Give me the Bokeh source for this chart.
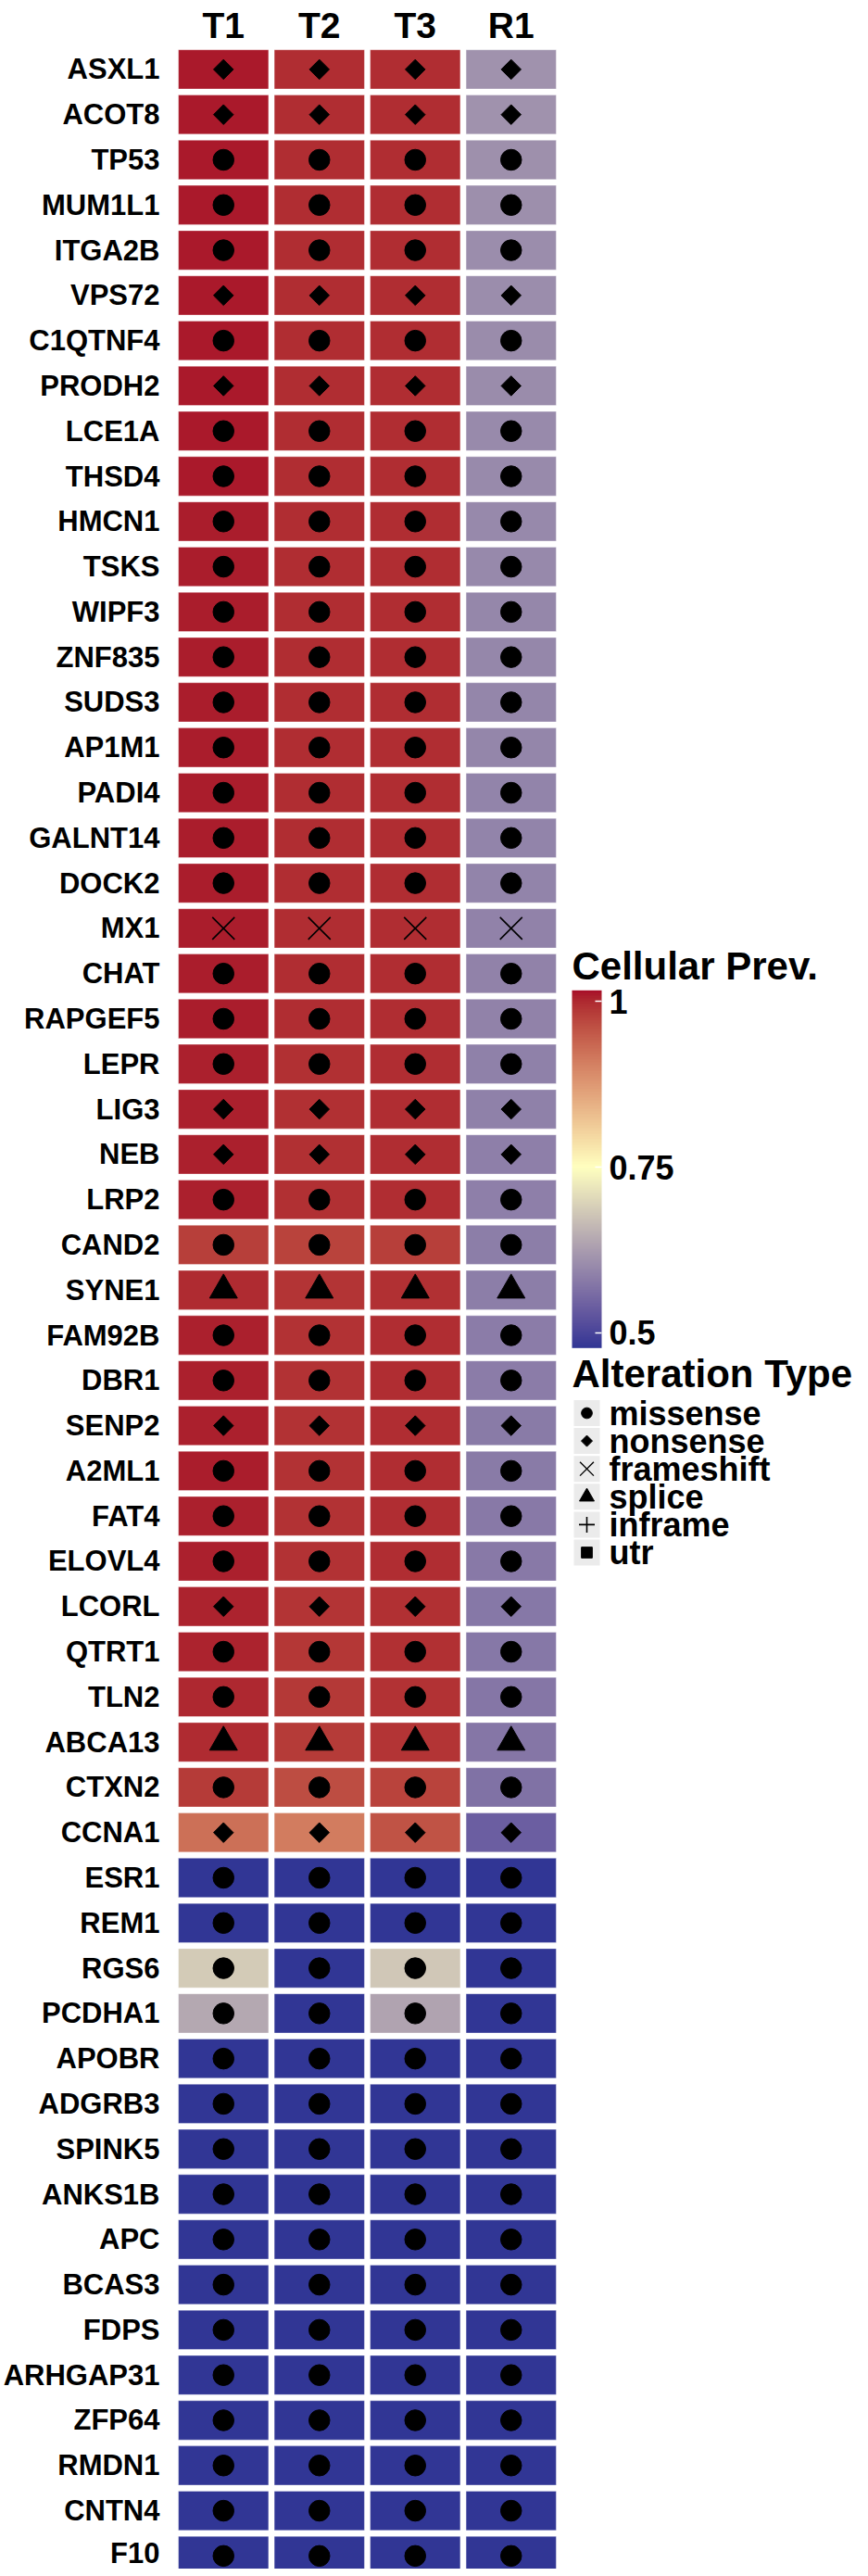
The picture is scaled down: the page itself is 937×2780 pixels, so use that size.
import math
from bokeh.plotting import figure
from bokeh.layouts import row
from bokeh.models import (Range1d, FactorRange, LinearColorMapper, ColorBar, FixedTicker,
                          ColumnDataSource, NumeralTickFormatter)
from bokeh.core.properties import value
from bokeh.transform import transform
from bokeh.embed import file_html
from bokeh.resources import INLINE

# ---------------- data ----------------
genes = ["ASXL1", "ACOT8", "TP53", "MUM1L1", "ITGA2B", "VPS72", "C1QTNF4", "PRODH2",
         "LCE1A", "THSD4", "HMCN1", "TSKS", "WIPF3", "ZNF835", "SUDS3", "AP1M1",
         "PADI4", "GALNT14", "DOCK2", "MX1", "CHAT", "RAPGEF5", "LEPR", "LIG3",
         "NEB", "LRP2", "CAND2", "SYNE1", "FAM92B", "DBR1", "SENP2", "A2ML1",
         "FAT4", "ELOVL4", "LCORL", "QTRT1", "TLN2", "ABCA13", "CTXN2", "CCNA1",
         "ESR1", "REM1", "RGS6", "PCDHA1", "APOBR", "ADGRB3", "SPINK5", "ANKS1B",
         "APC", "BCAS3", "FDPS", "ARHGAP31", "ZFP64", "RMDN1", "CNTN4", "F10"]

alteration = ["nonsense", "nonsense", "missense", "missense", "missense", "nonsense", "missense", "nonsense",
              "missense", "missense", "missense", "missense", "missense", "missense", "missense", "missense",
              "missense", "missense", "missense", "frameshift", "missense", "missense", "missense", "nonsense",
              "nonsense", "missense", "missense", "splice", "missense", "missense", "nonsense", "missense",
              "missense", "missense", "nonsense", "missense", "missense", "splice", "missense", "nonsense",
              "missense", "missense", "missense", "missense", "missense", "missense", "missense", "missense",
              "missense", "missense", "missense", "missense", "missense", "missense", "missense", "missense"]

samples = ["T1", "T2", "T3", "R1"]

prev_T1 = [1.012, 1.012, 1.012, 1.012, 1.012, 1.012, 1.012, 1.012,
           1.012, 1.012, 1.010, 1.010, 1.010, 1.010, 1.010, 1.010,
           1.010, 1.010, 1.010, 1.010, 1.010, 1.010, 1.008, 1.008,
           1.008, 1.008, 0.980, 1.000, 1.008, 1.008, 1.008, 1.010,
           1.008, 1.008, 1.005, 1.005, 1.002, 1.000, 0.985, 0.925,
           0.477, 0.477, 0.685, 0.640, 0.477, 0.477, 0.477, 0.477,
           0.477, 0.477, 0.477, 0.477, 0.477, 0.477, 0.477, 0.477]

prev_T2 = [0.998, 0.998, 0.998, 0.998, 0.998, 0.998, 0.998, 0.998,
           0.998, 0.998, 0.997, 0.997, 0.997, 0.997, 0.997, 0.997,
           0.996, 0.996, 0.996, 0.996, 0.996, 0.996, 0.995, 0.995,
           0.995, 0.995, 0.975, 0.990, 0.993, 0.993, 0.993, 0.993,
           0.992, 0.992, 0.990, 0.988, 0.987, 0.985, 0.965, 0.910,
           0.477, 0.477, 0.477, 0.477, 0.477, 0.477, 0.477, 0.477,
           0.477, 0.477, 0.477, 0.477, 0.477, 0.477, 0.477, 0.477]

prev_T3 = [0.998, 0.998, 0.998, 0.998, 0.998, 0.998, 0.997, 0.998,
           0.998, 0.998, 0.998, 0.998, 0.998, 0.998, 0.998, 0.998,
           0.997, 0.997, 0.997, 0.997, 0.997, 0.997, 0.997, 0.997,
           0.997, 0.997, 0.980, 0.995, 0.996, 0.996, 0.996, 0.996,
           0.996, 0.996, 0.995, 0.995, 0.993, 0.990, 0.975, 0.958,
           0.477, 0.477, 0.680, 0.635, 0.477, 0.477, 0.477, 0.477,
           0.477, 0.477, 0.477, 0.477, 0.477, 0.477, 0.477, 0.477]

prev_R1 = [0.610, 0.610, 0.608, 0.606, 0.605, 0.604, 0.603, 0.602,
           0.601, 0.600, 0.599, 0.598, 0.597, 0.596, 0.595, 0.594,
           0.593, 0.592, 0.591, 0.590, 0.590, 0.589, 0.588, 0.587,
           0.586, 0.585, 0.584, 0.583, 0.582, 0.581, 0.580, 0.579,
           0.578, 0.577, 0.576, 0.575, 0.574, 0.572, 0.566, 0.539,
           0.477, 0.477, 0.477, 0.477, 0.477, 0.477, 0.477, 0.477,
           0.477, 0.477, 0.477, 0.477, 0.477, 0.477, 0.477, 0.477]

alt_types = ["missense", "nonsense", "frameshift", "splice", "inframe", "utr"]

value_low, value_mid, value_high = 0.477, 0.75, 1.017
color_low, color_mid, color_high = "#313695", "#FFFFBF", "#A50026"
colorbar_ticks = [0.5, 0.75, 1.0]
colorbar_title = "Cellular Prev."
legend_title = "Alteration Type"

# ---------------- colour helpers (CIELAB interpolation, like ggplot gradient2) ----------------
Xn, Yn, Zn = 0.95047, 1.0, 1.08883


def _lin(c):
    return c / 12.92 if c <= 0.04045 else ((c + 0.055) / 1.055) ** 2.4


def _delin(c):
    return 12.92 * c if c <= 0.0031308 else 1.055 * c ** (1 / 2.4) - 0.055


def hex_to_lab(h):
    r, g, b = [_lin(int(h[i:i + 2], 16) / 255) for i in (1, 3, 5)]
    X = 0.4124564 * r + 0.3575761 * g + 0.1804375 * b
    Y = 0.2126729 * r + 0.7151522 * g + 0.0721750 * b
    Z = 0.0193339 * r + 0.1191920 * g + 0.9503041 * b

    def f(t):
        return t ** (1 / 3) if t > (6 / 29) ** 3 else t / (3 * (6 / 29) ** 2) + 4 / 29
    fx, fy, fz = f(X / Xn), f(Y / Yn), f(Z / Zn)
    return (116 * fy - 16, 500 * (fx - fy), 200 * (fy - fz))


def lab_to_hex(L, a, b):
    fy = (L + 16) / 116
    fx = fy + a / 500
    fz = fy - b / 200

    def finv(t):
        return t ** 3 if t > 6 / 29 else 3 * (6 / 29) ** 2 * (t - 4 / 29)
    X, Y, Z = Xn * finv(fx), Yn * finv(fy), Zn * finv(fz)
    r = 3.2404542 * X - 1.5371385 * Y - 0.4985314 * Z
    g = -0.9692660 * X + 1.8760108 * Y + 0.0415560 * Z
    bb = 0.0556434 * X - 0.2040259 * Y + 1.0572252 * Z
    out = [min(1.0, max(0.0, _delin(min(1.0, max(0.0, c))))) for c in (r, g, bb)]
    return "#%02x%02x%02x" % tuple(int(round(c * 255)) for c in out)


lab_lo, lab_mid, lab_hi = hex_to_lab(color_low), hex_to_lab(color_mid), hex_to_lab(color_high)
extent = 2 * max(abs(value_low - value_mid), abs(value_high - value_mid))
palette = []
for i in range(256):
    v = value_low + (value_high - value_low) * i / 255
    t = (v - value_mid) / extent + 0.5
    if t < 0.5:
        s = t / 0.5
        c = [lab_lo[k] + (lab_mid[k] - lab_lo[k]) * s for k in range(3)]
    else:
        s = (t - 0.5) / 0.5
        c = [lab_mid[k] + (lab_hi[k] - lab_mid[k]) * s for k in range(3)]
    palette.append(lab_to_hex(*c))

mapper = LinearColorMapper(palette=palette, low=value_low, high=value_high)

# ---------------- table ----------------
n = len(genes)
gene_pos = [n - i - 0.5 for i in range(n)]
series = {"T1": prev_T1, "T2": prev_T2, "T3": prev_T3, "R1": prev_R1}
cells = dict(sample=[], ypos=[], value=[], alt=[], gene=[])
for i, g in enumerate(genes):
    for s in samples:
        cells["sample"].append(s)
        cells["ypos"].append(gene_pos[i])
        cells["value"].append(series[s][i])
        cells["alt"].append(alteration[i])
        cells["gene"].append(g)
src = ColumnDataSource(cells)

FONT = "Liberation Sans"

# ---------------- heatmap figure ----------------
H = 2772
left, top = 186, 50
frame_w = 417
row_px = 48.79
frame_h = H - top
p = figure(width=left + frame_w, height=H,
           x_range=FactorRange(factors=samples),
           y_range=Range1d(start=n - frame_h / row_px, end=n),
           x_axis_location="above", output_backend="svg", toolbar_location=None, tools="",
           min_border_left=left, min_border_right=0, min_border_top=top, min_border_bottom=0,
           outline_line_color=None, background_fill_color="white", border_fill_color="white")
p.grid.visible = False

p.rect(x="sample", y="ypos", width=0.94, height=0.867, source=src,
       fill_color=transform("value", mapper), line_color="white", line_alpha=0.35, line_width=1)

p.yaxis.ticker = FixedTicker(ticks=gene_pos)
p.yaxis.major_label_overrides = {pos: g for pos, g in zip(gene_pos, genes)}
for ax in (p.xaxis[0], p.yaxis[0]):
    ax.axis_line_color = None
    ax.major_tick_line_color = None
    ax.minor_tick_line_color = None
    ax.major_tick_out = 0
    ax.major_tick_in = 0
    ax.major_label_text_font = FONT
    ax.major_label_text_font_style = "bold"
    ax.major_label_text_color = "black"
p.yaxis.major_label_text_font_size = "31px"
p.yaxis.major_label_standoff = 17
p.xaxis.major_label_text_font_size = "39px"
p.xaxis.major_label_standoff = 2

marker_style = {
    "missense": dict(marker="circle", size=22.5, angle=0.0, line_width=1),
    "nonsense": dict(marker="square", size=15.2, angle=math.pi / 4, line_width=1),
    "frameshift": dict(marker="x", size=34, angle=0.0, line_width=1.6),
    "splice": dict(marker="triangle", size=30, angle=0.0, line_width=1),
    "inframe": dict(marker="cross", size=24, angle=0.0, line_width=1.6),
    "utr": dict(marker="square", size=20, angle=0.0, line_width=1),
}

for t in alt_types:
    idx = [k for k, a in enumerate(cells["alt"]) if a == t]
    if not idx:
        continue
    d = dict(sample=[cells["sample"][k] for k in idx], ypos=[cells["ypos"][k] for k in idx])
    st = marker_style[t]
    p.scatter(x="sample", y="ypos", source=ColumnDataSource(d), marker=st["marker"],
              size=st["size"], angle=st["angle"], fill_color="black", line_color="black",
              line_width=st["line_width"])

# ---------------- legend panel (pixel coordinates, y measured from canvas top) ----------------
LW = 929 - (left + frame_w)
q = figure(width=LW, height=H, x_range=Range1d(0, LW), y_range=Range1d(H, top),
           output_backend="svg", toolbar_location=None, tools="",
           min_border_left=0, min_border_right=0, min_border_top=top, min_border_bottom=0,
           outline_line_color=None, background_fill_color="white",
           border_fill_color="white")
q.axis.visible = False
q.grid.visible = False

cbar = ColorBar(color_mapper=mapper, ticker=FixedTicker(ticks=colorbar_ticks),
                formatter=NumeralTickFormatter(format="0.[00]"),
                width=32, height=386, location=(14, H - 1454.3), orientation="vertical",
                major_label_text_font=FONT, major_label_text_font_size="36px",
                major_label_text_font_style="bold", major_label_text_color="black",
                label_standoff=8,
                major_tick_line_color="white", major_tick_line_width=1.5,
                major_tick_in=7, major_tick_out=0, minor_tick_line_color=None,
                bar_line_color=None, padding=0, margin=0,
                background_fill_alpha=0, border_line_color=None)
q.add_layout(cbar, "center")

# titles (vertically centred on their capitals)
q.text(x=[14, 14], y=[1041.5, 1482], text=[colorbar_title, legend_title],
       text_font=value(FONT), text_font_size="42px", text_font_style="bold",
       text_color="black", text_baseline="middle", text_align="left")

# legend keys
key_x, key_y0, key_pitch, key_size = 30, 1524.5, 30.1, 28
key_ys = [key_y0 + k * key_pitch for k in range(len(alt_types))]
q.rect(x=[key_x] * len(alt_types), y=key_ys, width=key_size, height=key_size,
       fill_color="#EBEBEB", line_color=None)
legend_marker = {
    "missense": dict(marker="circle", size=11.7, angle=0.0, line_width=1),
    "nonsense": dict(marker="square", size=8.5, angle=math.pi / 4, line_width=1),
    "frameshift": dict(marker="x", size=21, angle=0.0, line_width=1.4),
    "splice": dict(marker="triangle", size=16, angle=0.0, line_width=1),
    "inframe": dict(marker="cross", size=17, angle=0.0, line_width=1.6),
    "utr": dict(marker="square", size=11.7, angle=0.0, line_width=1),
}
for k, t in enumerate(alt_types):
    st = legend_marker[t]
    q.scatter(x=[key_x], y=[key_ys[k]], marker=st["marker"], size=st["size"], angle=st["angle"],
              fill_color="black", line_color="black", line_width=st["line_width"])
q.text(x=[54] * len(alt_types), y=key_ys, text=alt_types,
       text_font=value(FONT), text_font_size="36px", text_font_style="bold",
       text_color="black", text_baseline="middle", text_align="left")

layout = row(p, q, spacing=0)
open("out.html", "w").write(file_html(layout, INLINE))
